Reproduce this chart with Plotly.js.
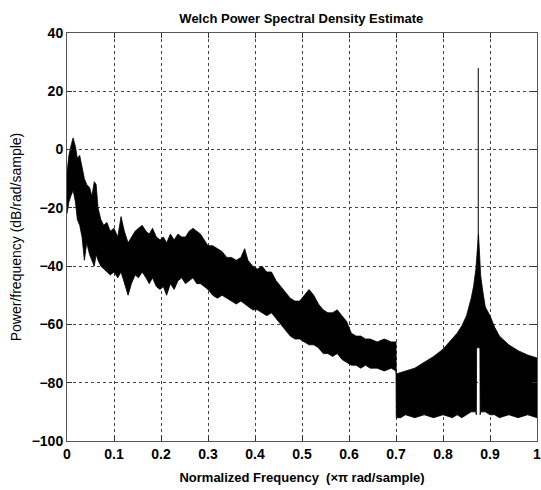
<!DOCTYPE html>
<html>
<head>
<meta charset="utf-8">
<script src="https://cdn.plot.ly/plotly-3.0.1.min.js"></script>
<style>html,body{margin:0;padding:0;background:#fff;}#chart{width:541px;height:490px;}</style>
</head>
<body>
<div id="chart"></div>
<script>
// Envelope of the Welch PSD estimate (normalized frequency, dB/rad/sample)
const freq = [0.000,0.004,0.008,0.013,0.018,0.022,0.027,0.032,0.037,0.042,0.048,0.053,0.058,0.062,0.066,0.072,0.078,0.085,0.092,0.100,
  0.108,0.115,0.122,0.130,0.137,0.145,0.152,0.160,0.168,0.175,0.182,0.190,0.198,0.205,0.212,0.220,0.228,0.236,0.244,0.252,
  0.260,0.268,0.276,0.284,0.292,0.300,0.310,0.320,0.330,0.340,0.350,0.360,0.370,0.378,0.385,0.395,0.405,0.415,0.425,0.435,
  0.445,0.455,0.465,0.475,0.485,0.495,0.505,0.515,0.525,0.535,0.545,0.555,0.565,0.575,0.585,0.595,0.605,0.615,0.625,0.635,
  0.645,0.660,0.675,0.690,0.700,
  0.7005,0.710,0.720,0.740,0.760,0.780,0.800,0.820,0.830,0.840,0.850,0.860,0.865,0.870,0.8710,0.8715,0.8745,0.8755,0.8785,0.8790,
  0.880,0.885,0.890,0.900,0.910,0.920,0.940,0.960,0.980,1.000];
const upper = [-8,-2,1,4,1,-3,-2,-6,-10,-12,-13,-16,-11,-12,-20,-24,-26,-25,-28,-27,
  -30,-23,-28,-32,-30,-28,-27,-26,-28,-29,-27,-30,-31,-30,-32,-29,-31,-29,-30,-30,
  -28,-27,-28,-29,-31,-33,-33,-34,-35,-37,-37,-38,-37,-34,-38,-40,-41,-40,-42,-42,
  -45,-47,-49,-51,-52,-52,-50,-48,-50,-53,-55,-56,-56,-55,-57,-59,-63,-64,-64,-65,
  -65,-66,-65,-66,-66,
  -77,-76.5,-76,-75,-73,-71,-68.5,-65,-63,-60.5,-57,-51,-47,-41,-39,-38,-29,-29,-38,-39,
  -43,-49,-54,-57,-61,-64,-67,-69,-70.5,-71.5];
const lower = [-22,-18,-16,-14,-18,-24,-26,-30,-38,-32,-36,-38,-40,-36,-38,-40,-41,-42,-43,-42,
  -44,-42,-46,-50,-46,-43,-44,-42,-44,-46,-44,-47,-48,-47,-50,-46,-48,-45,-44,-46,
  -45,-44,-46,-46,-47,-48,-50,-51,-50,-51,-52,-53,-52,-53,-54,-55,-55,-56,-57,-56,
  -58,-60,-62,-64,-65,-65,-66,-67,-67,-68,-70,-70,-71,-70,-72,-73,-74,-74,-75,-74,
  -75,-75,-76,-75,-76,
  -92,-92,-91,-92,-91,-92,-91,-92,-91,-92,-91,-90,-90,-90,-91,-68,-68,-68,-68,-91,
  -90,-90,-90,-91,-91,-92,-91,-92,-91,-92];
// Narrow spectral peak
const peakFreq = [0.875, 0.875];
const peakLevel = [-68, 28];

const xTicks = [0,0.1,0.2,0.3,0.4,0.5,0.6,0.7,0.8,0.9,1];
const xTickText = ['0','0.1','0.2','0.3','0.4','0.5','0.6','0.7','0.8','0.9','1'];
const yTicks = [-100,-80,-60,-40,-20,0,20,40];

const FONT = 'Liberation Sans, Arial, sans-serif';

const traces = [
  {x: freq, y: lower, type: 'scatter', mode: 'lines', line: {color: '#000', width: 0.8}, hoverinfo: 'skip', showlegend: false},
  {x: freq, y: upper, type: 'scatter', mode: 'lines', fill: 'tonexty', fillcolor: '#000', line: {color: '#000', width: 0.8}, showlegend: false},
  {x: peakFreq, y: peakLevel, type: 'scatter', mode: 'lines', line: {color: '#000', width: 1}, showlegend: false}
];

const axisCommon = {
  showline: true, linecolor: '#555', linewidth: 1, mirror: 'ticks',
  ticks: 'inside', ticklen: 5, tickcolor: '#333',
  showgrid: true, gridcolor: '#444', gridwidth: 1, griddash: 'dot',
  zeroline: false, ticklabeloverflow: 'allow',
  tickfont: {family: FONT, size: 14, color: '#000', weight: 'bold'}
};

const layout = {
  width: 541, height: 490,
  margin: {l: 67, r: 4, t: 33, b: 49},
  paper_bgcolor: '#fff', plot_bgcolor: '#fff',
  title: {text: 'Welch Power Spectral Density Estimate', x: 0.557, xanchor: 'center', y: 0.962, yanchor: 'middle', yref: 'container',
    font: {family: FONT, size: 13, color: '#000', weight: 'bold'}},
  xaxis: Object.assign({}, axisCommon, {
    range: [0, 1], tickvals: xTicks, ticktext: xTickText,
    title: {text: 'Normalized Frequency  (\u00d7\u03c0 rad/sample)', standoff: 12, font: {family: FONT, size: 13, color: '#000', weight: 'bold'}}
  }),
  yaxis: Object.assign({}, axisCommon, {
    range: [-100, 40], tickvals: yTicks,
    title: {text: 'Power/frequency (dB/rad/sample)', standoff: 6, font: {family: FONT, size: 14, color: '#000'}}
  })
};

Plotly.newPlot('chart', traces, layout, {staticPlot: true, displayModeBar: false});
</script>
</body>
</html>
